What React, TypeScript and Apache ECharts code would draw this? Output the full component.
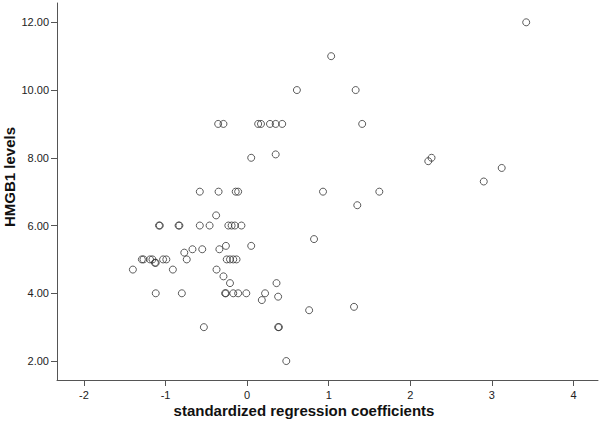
import React, { useEffect, useRef } from "react";
import * as echarts from "echarts";

// standardized regression coefficients (x) and HMGB1 levels (y)
const coefX = [
  3.42, 1.03, 0.61, 1.33, -0.355, -0.29, 0.135, 0.17, 0.28, 0.35, 0.43, 1.41,
  0.05, 0.35, 2.22, 2.26, 2.9, 3.12, -0.58, -0.35, -0.14, -0.11, 0.93, 1.62,
  1.35, -0.38, -1.08, -1.07, -0.84, -0.83, -0.58, -0.46, -0.23, -0.19, -0.15,
  -0.07, 0.82, -0.26, 0.05, -0.67, -0.55, -0.34, -0.77, -1.29, -1.27, -1.19,
  -1.16, -1.03, -0.99, -0.74, -0.25, -0.21, -0.17, -0.13, -1.13, -1.12, -1.4,
  -0.91, -0.375, -0.29, -0.21, 0.36, -1.12, -0.8, -0.27, -0.26, -0.17, -0.11,
  -0.01, 0.22, 0.18, 0.38, 0.76, 1.31, -0.53, 0.38, 0.39, 0.48,
];
const hmgb1Y = [
  12.0, 11.0, 10.0, 10.0, 9.0, 9.0, 9.0, 9.0, 9.0, 9.0, 9.0, 9.0,
  8.0, 8.1, 7.9, 8.0, 7.3, 7.7, 7.0, 7.0, 7.0, 7.0, 7.0, 7.0,
  6.6, 6.3, 6.0, 6.0, 6.0, 6.0, 6.0, 6.0, 6.0, 6.0, 6.0,
  6.0, 5.6, 5.4, 5.4, 5.3, 5.3, 5.3, 5.2, 5.0, 5.0, 5.0,
  5.0, 5.0, 5.0, 5.0, 5.0, 5.0, 5.0, 5.0, 4.9, 4.9, 4.7,
  4.7, 4.7, 4.5, 4.3, 4.3, 4.0, 4.0, 4.0, 4.0, 4.0, 4.0,
  4.0, 4.0, 3.8, 3.9, 3.5, 3.6, 3.0, 3.0, 3.0, 2.0,
];
const xTicks = [-2, -1, 0, 1, 2, 3, 4];
const yTicks = [2, 4, 6, 8, 10, 12];
const xTitle = "standardized regression coefficients";
const yTitle = "HMGB1 levels";

export default function App() {
  const ref = useRef<HTMLDivElement>(null);
  useEffect(() => {
    if (!ref.current) return;
    const chart = echarts.init(ref.current, null, { renderer: "svg" });
    const data = coefX.map((x, i) => [x, hmgb1Y[i]]);
    const axisColor = "#555";
    const font = "Liberation Sans, Arial, sans-serif";
    chart.setOption({
      animation: false,
      backgroundColor: "#fff",
      grid: { left: 57, right: 2, top: 3, bottom: 43 },
      xAxis: {
        type: "value",
        min: -2.33,
        max: 4.3,
        splitLine: { show: false },
        axisLine: { show: true, onZero: false, lineStyle: { color: axisColor, width: 1 } },
        axisTick: {
          show: true,
          inside: false,
          length: 6,
          customValues: xTicks,
          lineStyle: { color: axisColor, width: 1 },
        },
        axisLabel: {
          customValues: xTicks,
          color: "#222",
          fontSize: 11,
          fontFamily: font,
          margin: 9,
          formatter: (v: number) => String(v),
        },
      },
      yAxis: {
        type: "value",
        min: 1.44,
        max: 12.57,
        splitLine: { show: false },
        axisLine: { show: true, onZero: false, lineStyle: { color: axisColor, width: 1 } },
        axisTick: {
          show: true,
          inside: false,
          length: 6,
          customValues: yTicks,
          lineStyle: { color: axisColor, width: 1 },
        },
        axisLabel: {
          customValues: yTicks,
          color: "#222",
          fontSize: 11,
          fontFamily: font,
          margin: 8,
          formatter: (v: number) => v.toFixed(2),
        },
      },
      graphic: [
        {
          type: "text",
          x: 304,
          y: 410,
          style: {
            text: xTitle,
            align: "center",
            verticalAlign: "middle",
            font: `bold 15px ${font}`,
            fill: "#111",
          },
        },
        {
          type: "text",
          x: 9,
          y: 177,
          rotation: Math.PI / 2,
          style: {
            text: yTitle,
            align: "center",
            verticalAlign: "middle",
            font: `bold 15px ${font}`,
            fill: "#111",
          },
        },
      ],
      series: [
        {
          type: "scatter",
          data,
          symbol: "circle",
          symbolSize: 7,
          itemStyle: { color: "rgba(255,255,255,0)", borderColor: "#333", borderWidth: 1 },
          emphasis: { disabled: true },
        },
      ],
    });
    return () => chart.dispose();
  }, []);
  return (
    <div
      ref={ref}
      style={{ position: "fixed", left: 0, top: 0, width: 600, height: 423 }}
    />
  );
}
